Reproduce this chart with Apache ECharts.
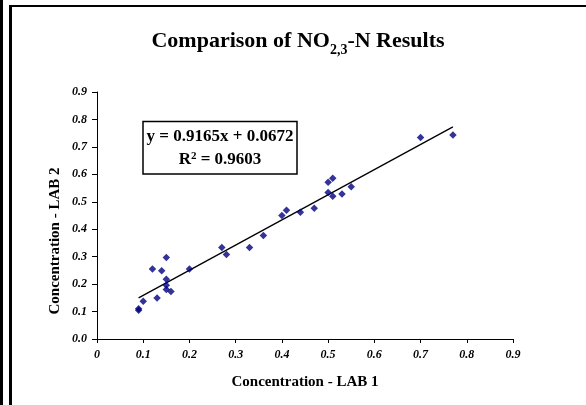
<!DOCTYPE html>
<html>
<head>
<meta charset="utf-8">
<script src="https://cdn.jsdelivr.net/npm/echarts@6/dist/echarts.min.js"></script>
<style>
  html, body { margin: 0; padding: 0; background: #fff; }
  #chart { width: 586px; height: 405px; }
</style>
</head>
<body>
<div id="chart"></div>
<script>
// Paired NO2,3-N measurements: LAB 1 (x) vs LAB 2 (y)
const lab1 = [0.09, 0.09, 0.10, 0.12, 0.13, 0.14, 0.15, 0.15, 0.15, 0.15, 0.16, 0.20, 0.27, 0.28,
              0.33, 0.36, 0.40, 0.41, 0.44, 0.47, 0.50, 0.50, 0.51, 0.51, 0.53, 0.55, 0.70, 0.77];
const lab2 = [0.105, 0.110, 0.138, 0.255, 0.149, 0.249, 0.297, 0.218, 0.196, 0.180, 0.173, 0.255, 0.333, 0.308,
              0.333, 0.377, 0.450, 0.469, 0.462, 0.476, 0.571, 0.534, 0.586, 0.520, 0.528, 0.555, 0.734, 0.743];

// Linear fit reported on the chart
const slope = 0.9165;
const intercept = 0.0672;
const rSquared = 0.9603;

const axisTicks = [0, 0.1, 0.2, 0.3, 0.4, 0.5, 0.6, 0.7, 0.8, 0.9];

const points = lab1.map((x, i) => [x, lab2[i]]);
const xMin = Math.min(...lab1), xMax = Math.max(...lab1);
const fitLine = [[xMin, slope * xMin + intercept], [xMax, slope * xMax + intercept]];

const serif = '"Liberation Serif", "Times New Roman", serif';

const chart = echarts.init(document.getElementById('chart'), null, { renderer: 'canvas' });
chart.setOption({
  backgroundColor: '#fff',
  animation: false,
  title: {
    text: '{a|Comparison of NO}{s|2,3}{a|-N Results}',
    left: 293, top: 25, textAlign: 'center',
    textStyle: {
      rich: {
        a: { fontFamily: serif, fontWeight: 'bold', fontSize: 22, color: '#000', verticalAlign: 'bottom' },
        s: { fontFamily: serif, fontWeight: 'bold', fontSize: 14, color: '#000', verticalAlign: 'bottom', padding: [0, 0, -5, 0] }
      }
    }
  },
  grid: { left: 97, right: 73, top: 92, bottom: 66, containLabel: false },
  xAxis: {
    type: 'value', min: axisTicks[0], max: axisTicks[axisTicks.length - 1], interval: 0.1,
    splitLine: { show: false },
    axisLine: { onZero: false, lineStyle: { color: '#000', width: 1 } },
    axisTick: { show: true, length: 4, lineStyle: { color: '#000' } },
    axisLabel: {
      margin: 10, color: '#000', fontFamily: serif, fontWeight: 'bold', fontStyle: 'italic', fontSize: 12,
      formatter: v => (Math.abs(v) < 1e-9 ? '0' : v.toFixed(1))
    },
    name: 'Concentration - LAB 1', nameLocation: 'middle', nameGap: 36,
    nameTextStyle: { color: '#000', fontFamily: serif, fontWeight: 'bold', fontSize: 15 }
  },
  yAxis: {
    type: 'value', min: axisTicks[0], max: axisTicks[axisTicks.length - 1], interval: 0.1,
    splitLine: { show: false },
    axisLine: { show: true, onZero: false, lineStyle: { color: '#000', width: 1 } },
    axisTick: { show: true, length: 5, lineStyle: { color: '#000' } },
    axisLabel: {
      margin: 10, color: '#000', fontFamily: serif, fontWeight: 'bold', fontStyle: 'italic', fontSize: 12,
      formatter: v => v.toFixed(1)
    }
  },
  graphic: [
    // outer frame lines
    { type: 'rect', shape: { x: 0, y: 0, width: 3, height: 405 }, style: { fill: '#000' }, silent: true },
    { type: 'rect', shape: { x: 9, y: 5, width: 3, height: 400 }, style: { fill: '#000' }, silent: true },
    { type: 'rect', shape: { x: 9, y: 5, width: 577, height: 2 }, style: { fill: '#000' }, silent: true },
    // y-axis title
    {
      type: 'text', x: 55, y: 241, rotation: Math.PI / 2,
      style: {
        text: 'Concentration - LAB 2', fill: '#000', font: 'bold 15px ' + serif,
        textAlign: 'center', textVerticalAlign: 'middle'
      }
    },
    // regression equation box
    {
      type: 'rect', shape: { x: 143, y: 121.5, width: 154, height: 52.5 },
      style: { fill: '#fff', stroke: '#000', lineWidth: 1.5 }, z: 10
    },
    {
      type: 'text', x: 220, y: 137, z: 11,
      style: {
        text: 'y = ' + slope + 'x + ' + intercept.toFixed(4), fill: '#000', font: 'bold 17px ' + serif,
        textAlign: 'center', textVerticalAlign: 'middle'
      }
    },
    {
      type: 'text', x: 220, y: 160, z: 11,
      style: {
        text: '{a|R}{s|2}{a| = ' + rSquared.toFixed(4) + '}',
        textAlign: 'center', textVerticalAlign: 'middle',
        rich: {
          a: { fontFamily: serif, fontWeight: 'bold', fontSize: 17, fill: '#000', color: '#000' },
          s: { fontFamily: serif, fontWeight: 'bold', fontSize: 11, color: '#000', padding: [0, 0, 8, 0] }
        }
      }
    }
  ],
  series: [
    {
      type: 'line', data: fitLine, symbol: 'none', silent: true,
      lineStyle: { color: '#000', width: 1.3 }, z: 2
    },
    {
      type: 'scatter', data: points, symbol: 'diamond', symbolSize: 7.5,
      itemStyle: { color: '#000080' }, z: 3
    }
  ]
});
</script>
</body>
</html>
